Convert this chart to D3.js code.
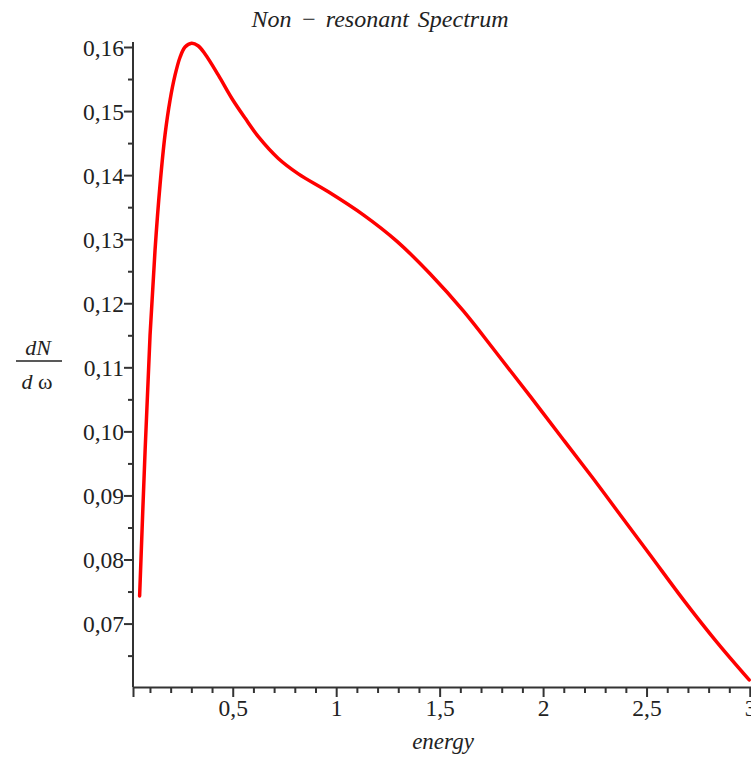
<!DOCTYPE html>
<html><head><meta charset="utf-8">
<script src="https://cdn.jsdelivr.net/npm/d3@7"></script>
<style>body{margin:0;background:#fff}svg{display:block}</style>
</head><body>
<svg id="c" width="751" height="757"></svg>
<script>
const energy = [0.050,0.0766,0.1004,0.1245,0.1487,0.1728,0.1970,0.2212,0.2454,0.2695,0.3010,0.3324,0.3662,0.4305,0.4952,0.5595,0.6237,0.7204,0.8171,0.9621,1.1312,1.2926,1.4536,1.6145,1.7759,1.9372,2.0981,2.2430,2.3561,2.5174,2.6783,2.8397,2.9961];
const dNdw = [0.0743,0.0971,0.1150,0.1283,0.1385,0.1463,0.1517,0.1556,0.1584,0.1600,0.1606,0.1602,0.1589,0.1556,0.1520,0.1489,0.1460,0.1426,0.1402,0.1374,0.1338,0.1297,0.1246,0.1188,0.1122,0.1055,0.0987,0.0926,0.0877,0.0807,0.0737,0.0671,0.0612];
const xTicks = [0.5,1,1.5,2,2.5,3];
const xTickLabels = ["0,5","1","1,5","2","2,5","3"];
const yTicks = [0.07,0.08,0.09,0.10,0.11,0.12,0.13,0.14,0.15,0.16];
const yTickLabels = ["0,07","0,08","0,09","0,10","0,11","0,12","0,13","0,14","0,15","0,16"];
const title = "Non \u2212 resonant Spectrum";
const xLabel = "energy";

const svg = d3.select("#c");
const x = d3.scaleLinear().domain([0.018,3]).range([133,750]);
const y = d3.scaleLinear().domain([0.0601,0.16]).range([687,47]);
const serif = "'Liberation Serif','Times New Roman',serif";

const xMinor = d3.range(1,30).map(i=>i/10).filter(v=>!xTicks.some(t=>Math.abs(t-v)<1e-6));
const yMinor = d3.range(6,16).map(i=>i/100+0.005).filter(v=>v<0.1605 && v>0.0601);

const xAxis = d3.axisBottom(x).tickValues(xTicks).tickFormat((d,i)=>xTickLabels[i]).tickSizeOuter(0).tickSize(10).tickPadding(2);
const yAxis = d3.axisLeft(y).tickValues(yTicks).tickFormat((d,i)=>yTickLabels[i]).tickSizeOuter(0).tickSize(9).tickPadding(0);

const gx = svg.append("g").attr("transform","translate(0,687)").call(xAxis);
const gy = svg.append("g").attr("transform","translate(133,0)").call(yAxis);
svg.append("g").attr("transform","translate(0,687)").call(d3.axisBottom(x).tickValues(xMinor).tickFormat("").tickSize(6).tickSizeOuter(0)).select(".domain").remove();
svg.append("g").attr("transform","translate(133,0)").call(d3.axisLeft(y).tickValues(yMinor).tickFormat("").tickSize(5).tickSizeOuter(0)).select(".domain").remove();

svg.selectAll(".domain").attr("stroke","#333").attr("stroke-width",2);
svg.selectAll(".tick line").attr("stroke","#333").attr("stroke-width",2);
gx.selectAll("text").attr("font-family",serif).attr("font-size",23.5).attr("fill","#222");
gy.selectAll("text").attr("font-family",serif).attr("font-size",23.5).attr("fill","#222").attr("dy","0.35em");
gy.select(".domain").attr("d","M0,42V687");

const line = d3.line().x((d,i)=>x(energy[i])).y(d=>y(d)).curve(d3.curveCatmullRom.alpha(0.5));
svg.append("path").datum(dNdw).attr("d",line).attr("fill","none").attr("stroke","#ff0000").attr("stroke-width",3.5).attr("stroke-linejoin","round").attr("stroke-linecap","round");

svg.append("text").attr("x",380).attr("y",27).attr("text-anchor","middle").attr("font-family",serif).attr("font-style","italic").attr("font-size",24).attr("word-spacing",3).attr("fill","#222").text(title);
svg.append("text").attr("x",443).attr("y",749).attr("text-anchor","middle").attr("font-family",serif).attr("font-style","italic").attr("font-size",23).attr("fill","#222").text(xLabel);
svg.append("text").attr("x",38).attr("y",355).attr("text-anchor","middle").attr("font-family",serif).attr("font-style","italic").attr("font-size",22).attr("fill","#222").text("dN");
svg.append("line").attr("x1",16).attr("x2",62).attr("y1",361).attr("y2",361).attr("stroke","#222").attr("stroke-width",1.5);
const dw = svg.append("text").attr("x",37).attr("y",389).attr("text-anchor","middle").attr("font-family",serif).attr("font-size",22).attr("fill","#222");
dw.append("tspan").attr("font-style","italic").text("d ");
dw.append("tspan").text("\u03c9");
</script>
</body></html>
